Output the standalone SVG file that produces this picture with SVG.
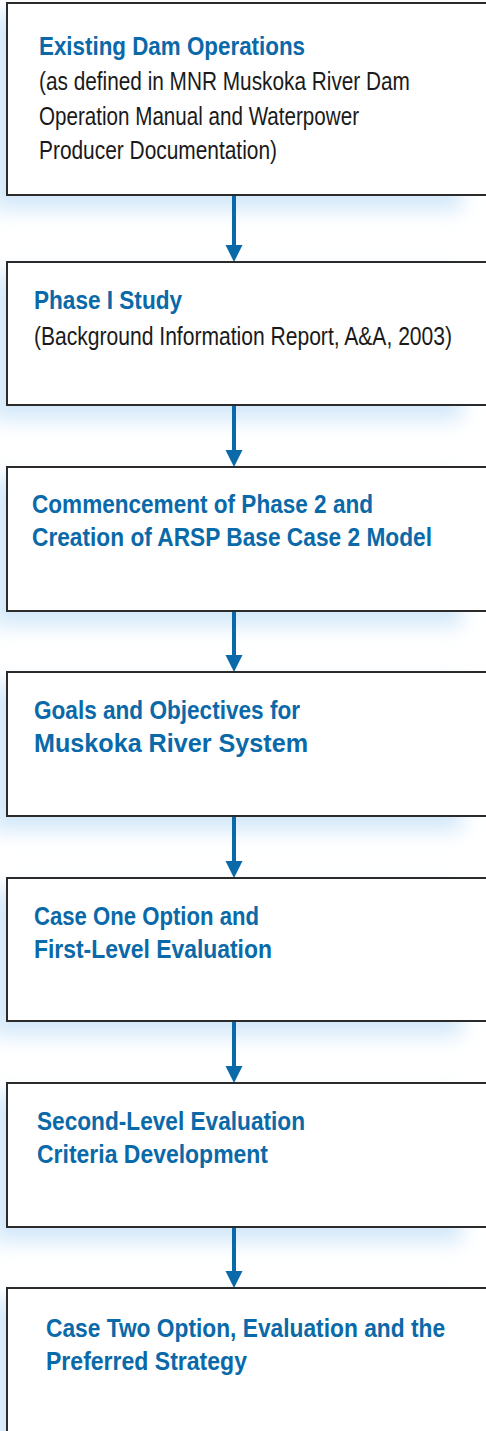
<svg xmlns="http://www.w3.org/2000/svg" width="486" height="1431" viewBox="0 0 486 1431">
  <style>
    .box { fill: #ffffff; stroke: #2b2b2b; stroke-width: 2; }
    .shadow { fill: #d3e8f9; filter: url(#soft); }
    .title { font-family: "Liberation Sans", Arial, sans-serif; font-weight: bold; font-size: 26px; fill: #0a69a8; }
    .body { font-family: "Liberation Sans", Arial, sans-serif; font-size: 25.5px; fill: #1a1a1a; }
    .flow { stroke: #0a69a8; stroke-width: 4; fill: none; }
    .head { fill: #0a69a8; }
  </style>
  <defs>
    <filter id="soft" x="-10%" y="-20%" width="120%" height="140%">
      <feGaussianBlur stdDeviation="10"/>
    </filter>
  </defs>

  <rect width="486" height="1431" fill="#ffffff"/>

  <!-- soft blue shadows behind each step -->
  <g id="shadows">
    <rect class="shadow" x="-8" y="14" width="470" height="196"/>
    <rect class="shadow" x="-8" y="273" width="470" height="147"/>
    <rect class="shadow" x="-8" y="478" width="470" height="148"/>
    <rect class="shadow" x="-8" y="683" width="470" height="148"/>
    <rect class="shadow" x="-8" y="889" width="470" height="147"/>
    <rect class="shadow" x="-8" y="1094" width="470" height="148"/>
    <rect class="shadow" x="-8" y="1299" width="470" height="160"/>
  </g>

  <!-- connectors -->
  <g id="connectors">
    <line class="flow" x1="234" y1="195" x2="234" y2="248"/>
    <polygon class="head" points="225.5,245 242.5,245 234,262"/>
    <line class="flow" x1="234" y1="405" x2="234" y2="453"/>
    <polygon class="head" points="225.5,450 242.5,450 234,467"/>
    <line class="flow" x1="234" y1="611" x2="234" y2="658"/>
    <polygon class="head" points="225.5,655 242.5,655 234,672"/>
    <line class="flow" x1="234" y1="816" x2="234" y2="864"/>
    <polygon class="head" points="225.5,861 242.5,861 234,878"/>
    <line class="flow" x1="234" y1="1021" x2="234" y2="1069"/>
    <polygon class="head" points="225.5,1066 242.5,1066 234,1083"/>
    <line class="flow" x1="234" y1="1227" x2="234" y2="1274"/>
    <polygon class="head" points="225.5,1271 242.5,1271 234,1288"/>
  </g>

  <!-- condensed lettering: titles squeezed to 0.86, body copy to 0.8 -->
  <g id="existing-dam-operations">
    <rect class="box" x="7" y="3" width="490" height="192"/>
    <text class="title" transform="translate(39,55) scale(0.86,1)" textLength="309.3" lengthAdjust="spacingAndGlyphs">Existing Dam Operations</text>
    <text class="body" transform="translate(39,90) scale(0.8,1)" textLength="463.7" lengthAdjust="spacingAndGlyphs">(as defined in MNR Muskoka River Dam</text>
    <text class="body" transform="translate(39,125) scale(0.8,1)" textLength="400" lengthAdjust="spacingAndGlyphs">Operation Manual and Waterpower</text>
    <text class="body" transform="translate(39,159) scale(0.8,1)" textLength="297.5" lengthAdjust="spacingAndGlyphs">Producer Documentation)</text>
  </g>

  <g id="phase-one-study">
    <rect class="box" x="7" y="262" width="490" height="143"/>
    <text class="title" transform="translate(34,309) scale(0.86,1)" textLength="172.1" lengthAdjust="spacingAndGlyphs">Phase I Study</text>
    <text class="body" transform="translate(34,345) scale(0.8,1)" textLength="522.5" lengthAdjust="spacingAndGlyphs">(Background Information Report, A&amp;A, 2003)</text>
  </g>

  <g id="commencement-phase-two">
    <rect class="box" x="7" y="467" width="490" height="144"/>
    <text class="title" transform="translate(32,513) scale(0.86,1)" textLength="396.5" lengthAdjust="spacingAndGlyphs">Commencement of Phase 2 and</text>
    <text class="title" transform="translate(32,546) scale(0.86,1)" textLength="465.1" lengthAdjust="spacingAndGlyphs">Creation of ARSP Base Case 2 Model</text>
  </g>

  <g id="goals-objectives">
    <rect class="box" x="7" y="672" width="490" height="144"/>
    <text class="title" transform="translate(34,719) scale(0.86,1)" textLength="309.3" lengthAdjust="spacingAndGlyphs">Goals and Objectives for</text>
    <text class="title" transform="translate(34,752) scale(0.86,1)" textLength="318.6" lengthAdjust="spacingAndGlyphs">Muskoka River System</text>
  </g>

  <g id="case-one-option">
    <rect class="box" x="7" y="878" width="490" height="143"/>
    <text class="title" transform="translate(34,925) scale(0.86,1)" textLength="261.6" lengthAdjust="spacingAndGlyphs">Case One Option and</text>
    <text class="title" transform="translate(34,958) scale(0.86,1)" textLength="276.7" lengthAdjust="spacingAndGlyphs">First-Level Evaluation</text>
  </g>

  <g id="second-level-criteria">
    <rect class="box" x="7" y="1083" width="490" height="144"/>
    <text class="title" transform="translate(37,1130) scale(0.86,1)" textLength="311.6" lengthAdjust="spacingAndGlyphs">Second-Level Evaluation</text>
    <text class="title" transform="translate(37,1163) scale(0.86,1)" textLength="268.6" lengthAdjust="spacingAndGlyphs">Criteria Development</text>
  </g>

  <g id="case-two-option">
    <rect class="box" x="7" y="1288" width="490" height="160"/>
    <text class="title" transform="translate(46,1337) scale(0.86,1)" textLength="464" lengthAdjust="spacingAndGlyphs">Case Two Option, Evaluation and the</text>
    <text class="title" transform="translate(46,1370) scale(0.86,1)" textLength="233.7" lengthAdjust="spacingAndGlyphs">Preferred Strategy</text>
  </g>
</svg>
